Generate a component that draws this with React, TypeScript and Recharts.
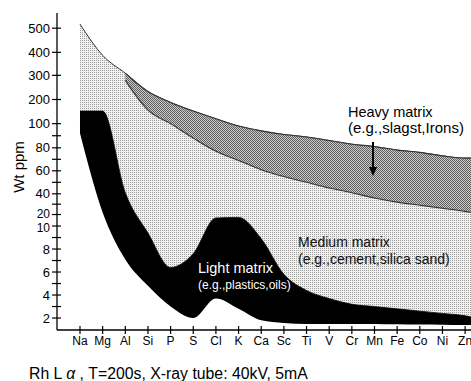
import React from 'react';
import { ComposedChart, Area, XAxis, YAxis } from 'recharts';

// Elements on the x axis
const elements = ['Na', 'Mg', 'Al', 'Si', 'P', 'S', 'Cl', 'K', 'Ca', 'Sc', 'Ti', 'V', 'Cr', 'Mn', 'Fe', 'Co', 'Ni', 'Zn'];
// x slot of each reading: one per element plus the right edge of the plot
const xSlots = [0, 1, 2, 3, 4, 5, 6, 7, 8, 9, 10, 11, 12, 13, 14, 15, 16, 17, 17.26];

// Wt ppm readings (last value = right edge of the plot)
const upperLimit = [517, 387, 309, 233, 188, 152, 120, 98, 94, 91, 89, 86, 83, 81, 78, 76, 73, 71, 71];
const heavyLower: (number | null)[] = [null, null, 279, 156, 100, 88, 77, 69, 61, 55, 50, 45, 41, 36, 32, 29, 26, 23, 22];
const lightUpper = [152, 152, 41, 9.4, 6.4, 7.6, 17, 17.5, 8.9, 5.8, 4.4, 3.7, 3.2, 3.0, 2.8, 2.6, 2.4, 2.2, 2.1];
const lightLower = [92, 22, 7.1, 4.8, 3.0, 2.0, 3.7, 2.8, 1.8, 1.57, 1.48, 1.48, 1.48, 1.48, 1.45, 1.43, 1.42, 1.4, 1.4];

// y axis tick values (the original axis is a broken, non-uniform scale)
const yTickValues = [2, 3, 4, 5, 6, 7, 8, 9, 10, 20, 30, 40, 50, 60, 70, 80, 90, 100, 200, 300, 400, 500];
const yLabelled = [2, 4, 6, 8, 10, 20, 40, 60, 80, 100, 200, 300, 400, 500];
// axis stops: [ppm, axis unit]
const axisStops: [number, number][] = [
  [1, -0.5], [2, 0], [4, 1], [6, 2], [8, 3], [10, 4], [20, 4.5], [40, 5.4], [60, 6.4],
  [80, 7.4], [100, 8.45], [200, 9.5], [300, 10.55], [400, 11.55], [500, 12.6], [600, 13.65],
];

function toAxis(v: number): number {
  const s = axisStops;
  if (v <= s[0][0]) {
    return s[0][1] - (s[0][0] - v) * ((s[1][1] - s[0][1]) / (s[1][0] - s[0][0]));
  }
  for (let i = 0; i < s.length - 1; i++) {
    const [a, ua] = s[i];
    const [b, ub] = s[i + 1];
    if (v <= b) return ua + ((v - a) / (b - a)) * (ub - ua);
  }
  const n = s.length - 1;
  return s[n][1] + (v - s[n][0]) * ((s[n][1] - s[n - 1][1]) / (s[n][0] - s[n - 1][0]));
}

const rows = xSlots.map((x, i) => ({
  x,
  medium: [toAxis(lightUpper[i]), toAxis(upperLimit[i])],
  heavy: heavyLower[i] == null ? null : [toAxis(heavyLower[i] as number), toAxis(upperLimit[i])],
  light: [toAxis(lightLower[i]), toAxis(lightUpper[i])],
}));

const FONT = '"Liberation Sans", Arial, Helvetica, sans-serif';

const YTick = (props: any) => {
  const { x, y, payload } = props;
  let label = '';
  for (const v of yLabelled) {
    if (Math.abs(toAxis(v) - payload.value) < 1e-6) label = String(v);
  }
  // the labels 20 and 10 sit very close together on the original axis
  const nudge = label === '20' ? -1.5 : label === '10' ? 1.5 : 0;
  return (
    <g>
      <line x1={x - 5} x2={x + 4} y1={y} y2={y} stroke="#000" strokeWidth={1.2} />
      {label && (
        <text x={x - 7} y={y + 4.5 + nudge} textAnchor="end" fontSize={label === '20' || label === '10' ? 12 : 13} fontFamily={FONT} fill="#000">
          {label}
        </text>
      )}
    </g>
  );
};

const XTick = (props: any) => {
  const { x, y, payload } = props;
  const label = elements[Math.round(payload.value)] ?? '';
  return (
    <g>
      <line x1={x} x2={x} y1={y - 4} y2={y + 4} stroke="#000" strokeWidth={1.2} />
      <text x={x} y={y + 15} textAnchor="middle" fontSize={12} fontFamily={FONT} fill="#000">
        {label}
      </text>
    </g>
  );
};

export default function App() {
  return (
    <div
      style={{
        position: 'absolute',
        left: 0,
        top: 0,
        width: 471,
        height: 381,
        overflow: 'hidden',
        background: '#fff',
      }}
    >
      <ComposedChart width={471} height={381} data={rows} margin={{ top: 13, right: 0, bottom: 21, left: 0 }}>
        <defs>
          <pattern id="medDots" patternUnits="userSpaceOnUse" width={2} height={2}>
            <rect x={0} y={0} width={2} height={2} fill="#f0f0f0" />
            <rect x={0} y={0} width={1} height={1} fill="#a0a0a0" />
          </pattern>
          <pattern id="heavyDots" patternUnits="userSpaceOnUse" width={2} height={2}>
            <rect x={0} y={0} width={2} height={2} fill="#cacaca" />
            <rect x={0} y={0} width={1} height={1} fill="#606060" />
            <rect x={1} y={1} width={1} height={1} fill="#606060" />
          </pattern>
        </defs>
        <XAxis
          dataKey="x"
          type="number"
          domain={[-1.015, 17.26]}
          allowDataOverflow
          ticks={[0, 1, 2, 3, 4, 5, 6, 7, 8, 9, 10, 11, 12, 13, 14, 15, 16, 17]}
          interval={0}
          height={30}
          tickSize={0}
          tickMargin={0}
          tickLine={false}
          axisLine={{ stroke: '#000', strokeWidth: 1.3 }}
          tick={<XTick />}
        />
        <YAxis
          type="number"
          domain={[-0.52, 13.26]}
          allowDataOverflow
          ticks={yTickValues.map(toAxis)}
          interval={0}
          width={57}
          tickSize={0}
          tickMargin={0}
          tickLine={false}
          axisLine={{ stroke: '#000', strokeWidth: 1.3 }}
          tick={<YTick />}
        />
        <Area
          dataKey="medium"
          type="monotone"
          fill="url(#medDots)"
          fillOpacity={1}
          stroke="#333"
          strokeWidth={1}
          isAnimationActive={false}
          dot={false}
          activeDot={false}
        />
        <Area
          dataKey="heavy"
          type="monotone"
          fill="url(#heavyDots)"
          fillOpacity={1}
          stroke="#333"
          strokeWidth={1.1}
          isAnimationActive={false}
          dot={false}
          activeDot={false}
        />
        <Area
          dataKey="light"
          type="monotone"
          fill="#000"
          fillOpacity={1}
          stroke="none"
          isAnimationActive={false}
          dot={false}
          activeDot={false}
        />
      </ComposedChart>
      <svg
        width={471}
        height={381}
        style={{ position: 'absolute', left: 0, top: 0, pointerEvents: 'none' }}
      >
        <text
          x={24}
          y={167}
          transform="rotate(-90 24 167)"
          textAnchor="middle"
          fontSize={15}
          fontFamily={FONT}
          fill="#000"
        >
          Wt ppm
        </text>
        <text x={348} y={117} fontSize={14.5} fontFamily={FONT} fill="#000">
          Heavy matrix
        </text>
        <text x={348} y={133} fontSize={15} fontFamily={FONT} fill="#000">
          (e.g.,slagst,Irons)
        </text>
        <line x1={373} x2={373} y1={142} y2={168} stroke="#000" strokeWidth={2} />
        <polygon points="369,167 377,167 373,176" fill="#000" />
        <text x={298} y={247} fontSize={14} fontFamily={FONT} fill="#111">
          Medium matrix
        </text>
        <text x={298} y={264} fontSize={14} fontFamily={FONT} fill="#111">
          (e.g.,cement,silica sand)
        </text>
        <text x={198} y={273} fontSize={14.5} fontFamily={FONT} fill="#fff">
          Light matrix
        </text>
        <text x={198} y={289} fontSize={12} fontFamily={FONT} fill="#fff">
          (e.g.,plastics,oils)
        </text>
        <text x={29} y={379} fontSize={15.8} fontFamily={FONT} fill="#000">
          Rh L <tspan fontStyle="italic">α</tspan> , T=200s, X-ray tube: 40kV, 5mA
        </text>
      </svg>
    </div>
  );
}
